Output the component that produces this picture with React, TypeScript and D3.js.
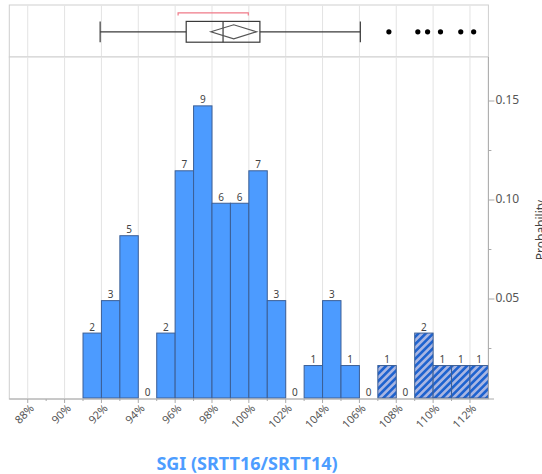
import React from 'react';
import * as d3 from 'd3';

// histogram bins (lower edge, %), counts and which bins hold outliers
const binStarts = [87, 88, 89, 90, 91, 92, 93, 94, 95, 96, 97, 98, 99, 100, 101, 102, 103, 104, 105, 106, 107, 108, 109, 110, 111, 112];
const counts = [0, 0, 0, 0, 2, 3, 5, 0, 2, 7, 9, 6, 6, 7, 3, 0, 1, 3, 1, 0, 1, 0, 2, 1, 1, 1];
const outlierBins = [107, 109, 110, 111, 112];
const firstLabelledBin = 91;

const xTicks = [88, 90, 92, 94, 96, 98, 100, 102, 104, 106, 108, 110, 112];
const yTicks = [0.05, 0.1, 0.15];
const yMinorTicks = [0.025, 0.075, 0.125];

// outlier box plot summary
const whiskerLow = 91.93;
const q1 = 96.6;
const median = 98.6;
const q3 = 100.6;
const whiskerHigh = 106.05;
const mean = 99.18;
const meanCI = [97.94, 100.42];
const shortestHalf = [96.16, 99.97];
const outliers = [107.6, 109.17, 109.7, 110.4, 111.5, 112.2];

const W = 542;
const H = 474;
const left = 9.3;
const right = 488.4;
const boxTop = 5;
const histTop = 57;
const histBottom = 398;

const font = '"Noto Sans", "Open Sans", sans-serif';

export default function App() {
  const total = d3.sum(counts);
  const x = d3.scaleLinear().domain([87, 113]).range([left, right]);
  const y = d3.scaleLinear().domain([0, 0.05]).range([histBottom, 299]);

  const boxMid = 31.8;
  const boxH = 10.4;
  const diaH = 7;

  return (
    <svg width={W} height={H} style={{ position: 'absolute', left: 0, top: 0 }} fontFamily={font}>
      <defs>
        <pattern id="hatch" patternUnits="userSpaceOnUse" width={5.2} height={5.2} patternTransform="rotate(45)">
          <rect width={5.2} height={5.2} fill="#a9b6e2" />
          <rect width={2.6} height={5.2} fill="#1f63cf" />
        </pattern>
      </defs>

      {/* box plot panel */}
      <rect x={left} y={boxTop} width={right - left} height={histTop - boxTop} fill="#fff" stroke="#cfcfcf" />
      {xTicks.map((t) => (
        <line key={'bg' + t} x1={x(t)} x2={x(t)} y1={boxTop + 0.5} y2={histTop - 0.5} stroke="#e3e3e3" />
      ))}
      <path
        d={`M${x(shortestHalf[0])},15.5V12.8H${x(shortestHalf[1])}V15.5`}
        fill="none"
        stroke="#f07a88"
        strokeWidth={1.2}
      />
      <g stroke="#3a3a3a" strokeWidth={1.2} fill="none">
        <line x1={x(whiskerLow)} x2={x(q1)} y1={boxMid} y2={boxMid} />
        <line x1={x(q3)} x2={x(whiskerHigh)} y1={boxMid} y2={boxMid} />
        <line x1={x(whiskerLow)} x2={x(whiskerLow)} y1={boxMid - boxH} y2={boxMid + boxH} />
        <line x1={x(whiskerHigh)} x2={x(whiskerHigh)} y1={boxMid - boxH} y2={boxMid + boxH} />
        <rect x={x(q1)} y={boxMid - boxH} width={x(q3) - x(q1)} height={boxH * 2} />
        <line x1={x(median)} x2={x(median)} y1={boxMid - boxH} y2={boxMid + boxH} />
        <path
          d={`M${x(meanCI[0])},${boxMid}L${x(mean)},${boxMid - diaH}L${x(meanCI[1])},${boxMid}L${x(mean)},${boxMid + diaH}Z`}
          stroke="#555"
        />
      </g>
      {outliers.map((o, i) => (
        <circle key={'o' + i} cx={x(o)} cy={boxMid} r={2.6} fill="#000" />
      ))}

      {/* histogram panel */}
      <rect x={left} y={histTop} width={right - left} height={histBottom - histTop + 1} fill="#fff" stroke="#cfcfcf" />
      {xTicks.map((t) => (
        <line key={'hg' + t} x1={x(t)} x2={x(t)} y1={histTop + 0.5} y2={histBottom} stroke="#e3e3e3" />
      ))}
      {binStarts.map((b, i) =>
        counts[i] > 0 ? (
          <rect
            key={'bar' + b}
            x={x(b)}
            y={y(counts[i] / total)}
            width={x(b + 1) - x(b)}
            height={histBottom - y(counts[i] / total)}
            fill={outlierBins.includes(b) ? 'url(#hatch)' : '#4c9bff'}
            stroke="#3c5f96"
            strokeWidth={1}
          />
        ) : null
      )}
      {binStarts.map((b, i) =>
        b >= firstLabelledBin ? (
          <text
            key={'lab' + b}
            x={x(b + 0.5)}
            y={y(counts[i] / total) - 2.5}
            textAnchor="middle"
            fontSize={10}
            fill="#444"
          >
            {counts[i]}
          </text>
        ) : null
      )}

      {/* x axis */}
      <line x1={left} x2={494} y1={histBottom + 1} y2={histBottom + 1} stroke="#aaa" />
      {binStarts.slice(1).map((b) => (
        <line
          key={'xt' + b}
          x1={x(b)}
          x2={x(b)}
          y1={histBottom + 1}
          y2={histBottom + (b % 2 === 0 ? 5 : 3)}
          stroke="#aaa"
        />
      ))}
      {xTicks.map((t) => (
        <text
          key={'xl' + t}
          transform={`translate(${x(t) + 5},${histBottom + 9}) rotate(-45)`}
          textAnchor="end"
          dominantBaseline="middle"
          fontSize={11}
          fill="#555"
        >
          {t + '%'}
        </text>
      ))}

      {/* y axis on the right */}
      <line x1={right} x2={right} y1={histTop} y2={histBottom + 1} stroke="#aaa" />
      {yTicks.map((t) => (
        <g key={'yt' + t}>
          <line x1={right} x2={right + 6} y1={y(t)} y2={y(t)} stroke="#aaa" />
          <text x={right + 7} y={y(t)} dominantBaseline="middle" fontSize={12} fill="#555">
            {d3.format('.2f')(t)}
          </text>
        </g>
      ))}
      {yMinorTicks.map((t) => (
        <line key={'ym' + t} x1={right} x2={right + 3} y1={y(t)} y2={y(t)} stroke="#aaa" />
      ))}
      {/* axis title sits past the right edge, as in the reference */}
      <text
        transform={`translate(545,230) rotate(-90)`}
        textAnchor="middle"
        fontSize={12}
        fill="#444"
      >
        Probability
      </text>

      <text x={247} y={470} textAnchor="middle" fontSize={18} fontWeight="bold" fill="#4d9dff">
        SGI (SRTT16/SRTT14)
      </text>
    </svg>
  );
}
